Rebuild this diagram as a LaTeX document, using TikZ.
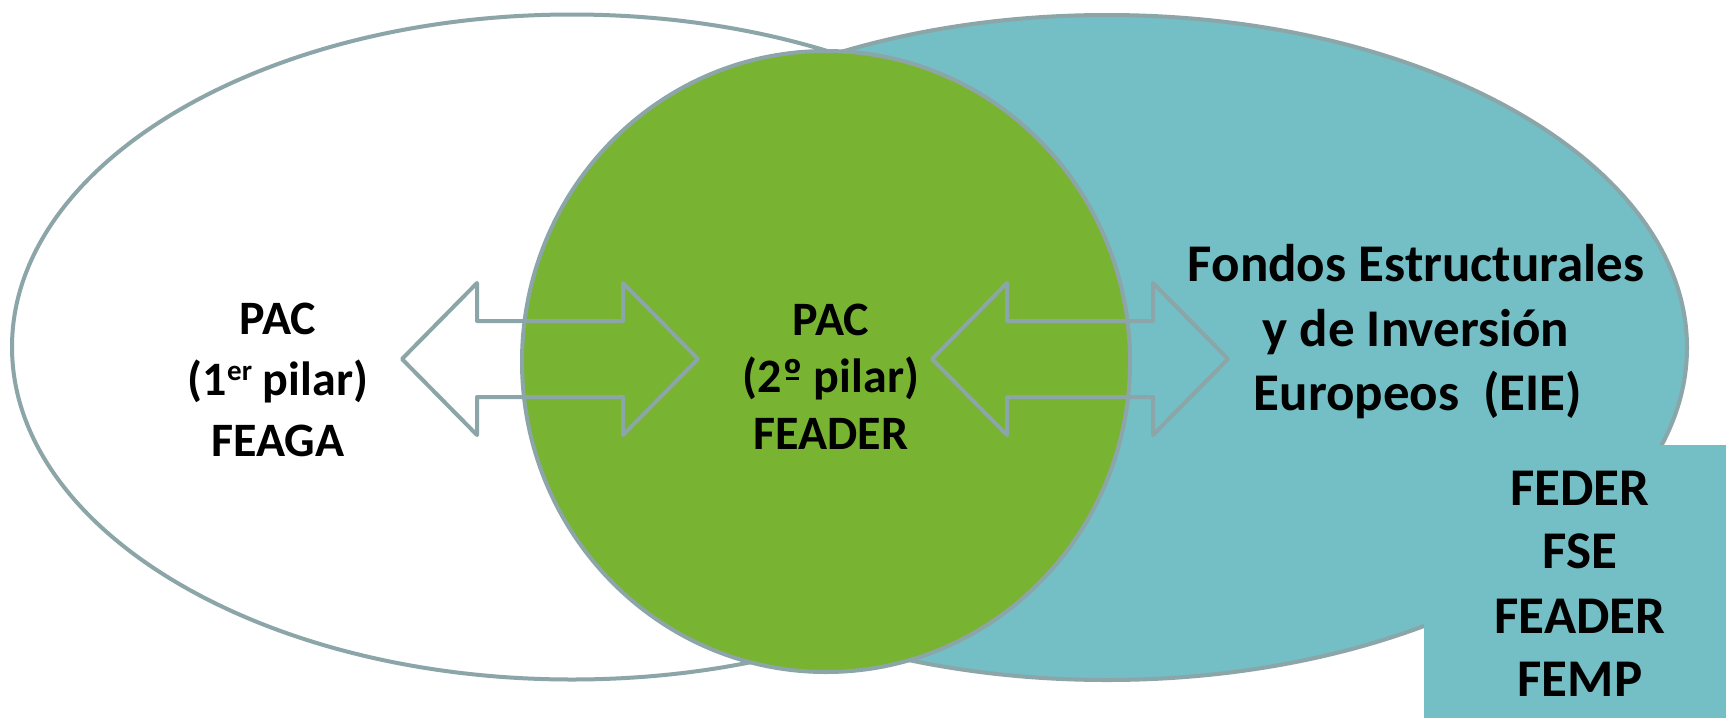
\documentclass[tikz,border=0pt]{standalone}
\usepackage{fontspec}
\setmainfont{Carlito}
\usetikzlibrary{shapes.geometric}
\definecolor{outl}{RGB}{139,165,168}
\definecolor{tealf}{RGB}{115,191,197}
\definecolor{greenf}{RGB}{120,180,50}
\newcommand{\myordm}{{\ooalign{º\cr\hidewidth\rule[12pt]{13pt}{3pt}\hidewidth\cr}}}
\tikzset{
  blob/.style={ellipse, draw=outl, line width=4pt, inner sep=0pt, outer sep=0pt},
  arrowline/.style={draw=outl, line width=4pt, line join=round},
  lbl/.style={anchor=base, inner sep=0pt, font=\bfseries\fontsize{48}{48}\selectfont},
  lblr/.style={anchor=base, inner sep=0pt, font=\bfseries\fontsize{53}{53}\selectfont},
  lblf/.style={anchor=base, inner sep=0pt, font=\bfseries\fontsize{53}{53}\selectfont},
  dblarrow/.pic={
    \draw[arrowline] (-148,0) -- (-73,-76) -- (-73,-38) -- (73,-38) -- (73,-76)
      -- (148,0) -- (73,76) -- (73,38) -- (-73,38) -- (-73,76) -- cycle;
  }
}
\begin{document}
\begin{tikzpicture}[x=1pt,y=-1pt]
\useasboundingbox[fill=white] (0,0) rectangle (1726,718);
\node[blob, fill=white, minimum width=1120pt, minimum height=665pt] (pac1) at (572,347) {};
\node[blob, fill=tealf, minimum width=1160pt, minimum height=665pt] (eie) at (1107,347.5) {};
\node[blob, fill=greenf, minimum width=608pt, minimum height=621pt] (pac2) at (826,361.5) {};
\node[fill=tealf, inner sep=0pt, minimum width=302pt, minimum height=273pt, anchor=north west] (funds) at (1424,445) {};
\pic (arrL) at (550,359) {dblarrow};
\pic (arrR) at (1080,359) {dblarrow};
% left texts
\node[lbl] (l1) at (278,334) {PAC};
\node[lbl] (l2) at (278,395) {(1{\fontsize{29}{29}\selectfont\raisebox{15pt}{er}} pilar)};
\node[lbl] (l3) at (278,456) {FEAGA};
% middle texts
\node[lbl] (m1) at (831,335) {PAC};
\node[lbl] (m2) at (831,392) {(2\myordm\ pilar)};
\node[lbl] (m3) at (831,449) {FEADER};
% right texts
\node[lblr] (r1) at (1416,281) {Fondos Estructurales};
\node[lblr] (r2) at (1416,346) {y de Inversión};
\node[lblr] (r3) at (1418,410) {Europeos\ \ (EIE)};
% funds list
\node[lblf] (f1) at (1580,505) {FEDER};
\node[lblf] (f2) at (1580,568) {FSE};
\node[lblf] (f3) at (1580,633) {FEADER};
\node[lblf] (f4) at (1580,696) {FEMP};
\end{tikzpicture}
\end{document}
